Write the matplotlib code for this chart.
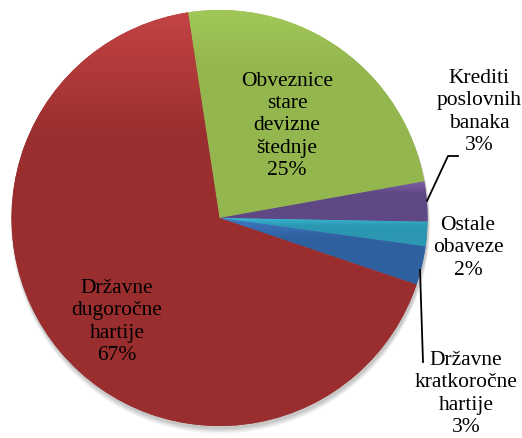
import numpy as np
import matplotlib
matplotlib.use("Agg")
import matplotlib.pyplot as plt
from matplotlib.patches import Circle
from matplotlib.colors import to_rgb

# data
labels = ["Obveznice\nstare\ndevizne\nštednje\n25%",
          "Krediti\nposlovnih\nbanaka\n3%",
          "Ostale\nobaveze\n2%",
          "Državne\nkratkoročne\nhartije\n3%",
          "Državne\ndugoročne\nhartije\n67%"]
values = [24.6, 3.1, 1.9, 3.0, 67.4]
top_colors = ["#a3c95a", "#8060a8", "#3abbd8", "#3f78c4", "#c34343"]
base_colors = ["#93b64e", "#5f4884", "#2b97b2", "#2f609f", "#9a2e2e"]

W, H = 522, 439
fig = plt.figure(figsize=(W / 100, H / 100), dpi=100)
ax = fig.add_axes([0, 0, 1, 1])

def Y(yp):
    return H - yp

cx, cy, R = 219.5, Y(219), 208

# soft shadow
for i, (off, a) in enumerate([(6, 0.05), (5, 0.05), (4, 0.06), (3, 0.07)]):
    ax.add_patch(Circle((cx + 1, cy - off), R + 1.5 - i * 0.4, color="black",
                        alpha=a, lw=0, zorder=0))

wedges, _ = ax.pie(values, colors=base_colors, startangle=98.7, counterclock=False,
                   center=(cx, cy), radius=R, frame=True,
                   wedgeprops=dict(linewidth=0, zorder=1))

for w, ct, cb in zip(wedges, top_colors, base_colors):
    w.set_zorder(1)
    verts = w.get_path().vertices
    ys = verts[:, 1]
    y0, y1 = ys.min(), ys.max()
    xs = verts[:, 0]
    x0, x1 = xs.min(), xs.max()
    n = 200
    t = np.linspace(0, 1, n)  # 0 top, 1 bottom
    f = np.clip(t / 0.3, 0, 1)
    c1 = np.array(to_rgb(ct)); c2 = np.array(to_rgb(cb))
    img = (c1[None, :] * (1 - f[:, None]) + c2[None, :] * f[:, None])
    img = img[:, None, :].repeat(2, axis=1)
    im = ax.imshow(img, extent=(x0, x1, y0, y1), origin="upper", aspect="auto",
                   zorder=2, interpolation="bilinear")
    im.set_clip_path(w)

ax.set_xlim(0, W)
ax.set_ylim(0, H)
ax.set_aspect("equal")
ax.axis("off")

fs = 15.5
font = dict(family="Liberation Serif", fontsize=fs, ha="center", va="center",
            linespacing=1.22, zorder=5, color="black")

ax.text(287, Y(126), labels[0], **font)
ax.text(479, Y(112), labels[1], **font)
ax.text(468, Y(248), labels[2], **font)
ax.text(466, Y(394), labels[3], **font)
ax.text(117, Y(322), labels[4], **font)

# leader lines
ax.plot([427, 448, 458], [Y(202), Y(157), Y(157)], color="black", lw=1.3, zorder=4)
ax.plot([420, 423], [Y(271), Y(363)], color="black", lw=1.3, zorder=4)

fig.savefig("out.png", dpi=100)
